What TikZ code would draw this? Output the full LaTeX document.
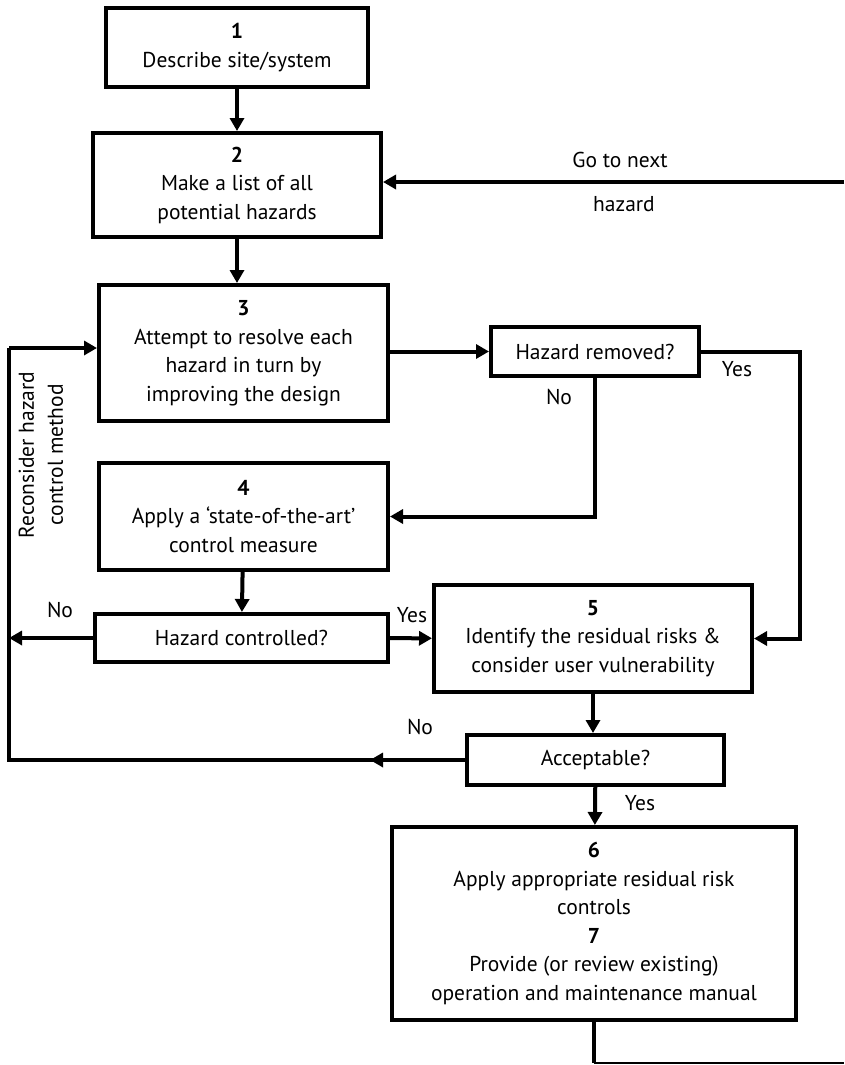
\documentclass[tikz,border=0pt]{standalone}
\usepackage{fontspec}
\setmainfont{PT Sans}
\usepackage{tikz}
\usetikzlibrary{arrows.meta}
\usetikzlibrary{positioning}
\usetikzlibrary{calc}
\tikzstyle{stepbox}=[rectangle,draw,line width=4pt,align=center,inner sep=0pt,font=\fontsize{21.5}{28.5}\selectfont]
\tikzstyle{flow} = [draw,line width=4pt,-{Triangle[length=13pt,width=14pt]}]
\tikzstyle{wire} = [draw,line width=4pt]
\tikzstyle{answer} = [font=\fontsize{21.5}{24}\selectfont]

\begin{document}
\begin{tikzpicture}[x=1pt, y=-1pt]

  \useasboundingbox (0,0) rectangle (844,1065);

  % the numbered steps
  \node[stepbox, minimum width=262, minimum height=79] (s1) at (237, 47.5) {\textbf{1}\\Describe site/system};
  \node[stepbox, minimum width=288, minimum height=104] (s2) at (237, 185) {\textbf{2}\\Make a list of all\\potential hazards};
  \node[stepbox, minimum width=289, minimum height=136] (s3) at (243.5, 353) {\textbf{3}\\Attempt to resolve each\\hazard in turn by\\improving the design};
  \node[stepbox, minimum width=289, minimum height=107] (s4) at (243.5, 516.5) {\textbf{4}\\Apply a ‘state-of-the-art’\\control measure};
  \node[stepbox, minimum width=318, minimum height=107] (s5) at (593, 638.5) {\textbf{5}\\Identify the residual risks \&\\consider user vulnerability};
  \node[stepbox, minimum width=404, minimum height=193] (s6) at (594, 923.5) {\textbf{6}\\Apply appropriate residual risk\\controls\\\textbf{7}\\Provide (or review existing)\\operation and maintenance manual};

  % the questions
  \node[stepbox, minimum width=208, minimum height=49] (removed) at (595, 351.5) {Hazard removed?};
  \node[stepbox, minimum width=293, minimum height=48] (controlled) at (241.5, 638) {Hazard controlled?};
  \node[stepbox, minimum width=257, minimum height=50] (accept) at (595.5, 760) {Acceptable?};

  \coordinate (lft) at (9, 348);
  \coordinate (rgt) at (800, 345);
  \coordinate (nxt) at (844, 182);
  \coordinate (tail) at (594, 1063);

  % main line
  \path[flow] (s1) -- (s2);
  \path[flow] (s2.south) -- (s2.south |- s3.north);
  \path[flow] (s3.east |- removed.west) -- (removed.west);
  \path[flow] (s4) -- (controlled);
  \path[flow] (controlled) -- (s5);
  \path[flow] (s5.south) -- (s5.south |- accept.north);
  \path[flow] (accept) -- (s6);

  % branches
  \path[flow] (removed.east) -- (removed.east -| rgt) -- (rgt |- s5.east) -- (s5.east);
  \path[flow] (removed.south) -- (removed.south |- s4.east) -- (s4.east);
  \path[flow] (controlled.west) -- (controlled.west -| lft);
  \path[wire] (accept.west) -- (accept.west -| lft) -- (lft);
  \path[flow] (lft) -- (lft -| s3.west);
  \path[flow] (accept.west) -- ++(-95,0);
  \path[flow] (nxt) -- (nxt -| s2.east);
  \path[wire] (s6.south) -- (tail);
  \draw[line width=1.5pt] (tail) -- (844, 1063);

  % labels
  \foreach \x/\y/\name/\label in {737/369/y1/Yes, 559/397/n1/No, 60/610/n2/No, 412/615/y2/Yes, 420/727/n3/No, 640/803/y3/Yes, 620/160/go/Go to next, 624/204/hz/hazard}
          \node[answer] (\name) at (\x, \y) {\label};

  \node[answer, rotate=90, align=center, font=\fontsize{21.5}{29}\selectfont] (back) at (41, 455) {Reconsider hazard\\control method};

\end{tikzpicture}
\end{document}
